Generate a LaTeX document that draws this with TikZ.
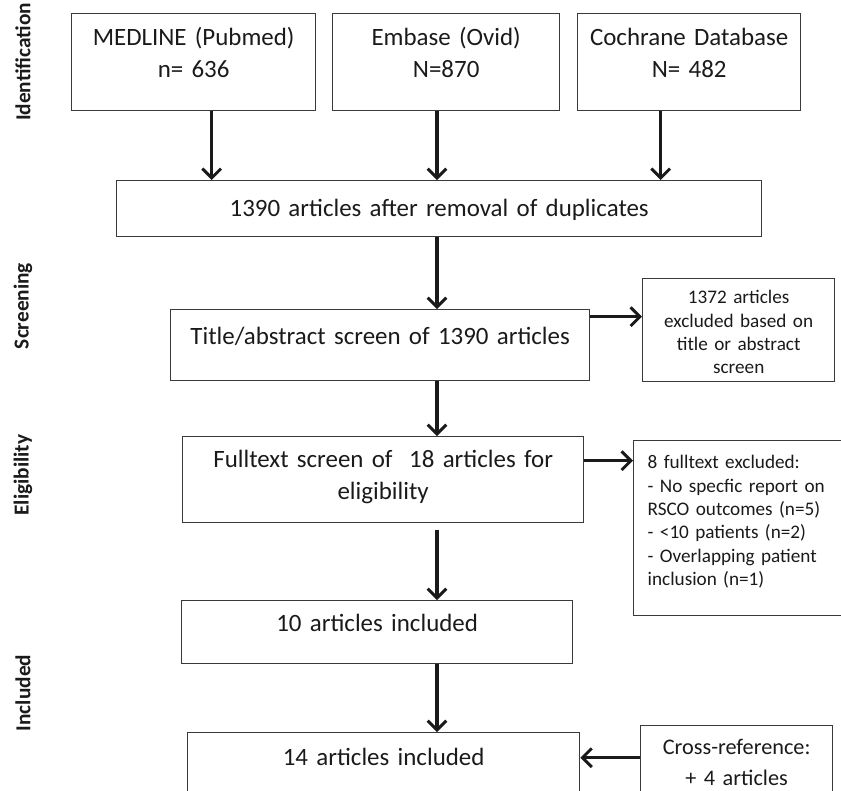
\documentclass[tikz,border=0pt]{standalone}
\usepackage{fontspec}
\setmainfont{Carlito}
\usepackage{xcolor}
\usepackage{tikz}
\usetikzlibrary{arrows.meta,calc}
\definecolor{ink}{HTML}{1A1A1A}
\definecolor{boxline}{HTML}{3A3A3A}
\newcommand{\mainsize}{\fontsize{18.7}{24}\selectfont}
\newcommand{\notesize}{\fontsize{14.4}{17.5}\selectfont}

\begin{document}
\begin{tikzpicture}[x=0.75pt,y=-0.75pt,font=\mainsize,
  box/.style={draw=boxline,line width=1pt,anchor=north west,inner sep=0pt,align=center,text=ink},
  link/.style={-{Straight Barb[length=7pt,width=14pt,line width=2.2pt]},line width=2.6pt,draw=ink},
  stage/.style={rotate=90,font=\fontsize{16}{19}\selectfont\bfseries,text=ink}]
\clip (0,0) rectangle (841,790);
\coordinate (spine) at (437,0);
% phase labels
\node[stage] (lid) at (23,62) {Identification};
\node[stage] (lscr) at (23,306) {Screening};
\node[stage] (lel) at (23,475) {Eligibility};
\node[stage] (linc) at (23,693) {Included};
% sources
\node[box,text width=183pt,text height=24pt,text depth=48.75pt] (med) at (71,13) {MEDLINE (Pubmed)\\n= 636};
\node[box,text width=170.25pt,text height=24pt,text depth=48.75pt] (emb) at (332,13) {Embase (Ovid)\\N=870};
\node[box,text width=167.25pt,text height=24pt,text depth=48.75pt] (coch) at (577,13) {Cochrane Database\\N= 482};
% main column
\node[box,text width=483.75pt,text height=26.6pt,text depth=15.4pt] (dedup) at (116,180) {1390 articles after removal of duplicates};
\node[box,text width=314.25pt,text height=26.25pt,text depth=27pt] (title) at (170,309) {Title/abstract screen of 1390 articles};
\node[box,text width=300.75pt,text height=23.25pt,text depth=41.25pt] (full) at (182,436) {Fulltext screen of~ 18 articles for\\eligibility};
\node[box,text width=293.25pt,text height=23.25pt,text depth=24pt] (ten) at (181,600) {10 articles included};
\node[box,text width=294pt,text height=24.75pt,text depth=42.75pt] (fourteen) at (187,732) {14 articles included};
% side boxes
\node[box,font=\notesize,text width=144pt,text height=18.75pt,text depth=58.5pt] (excl1) at (642,278) {1372 articles\\excluded based on\\title or abstract\\screen};
\node[box,font=\notesize,align=left,inner xsep=10.5pt,text width=156.75pt,text height=21pt,text depth=110.25pt] (excl2) at (633,440) {8 fulltext excluded:\\- No specfic report on\\RSCO outcomes (n=5)\\- {<}10 patients (n=2)\\- Overlapping patient\\inclusion (n=1)};
\node[box,font=\fontsize{16.7}{23.25}\selectfont,text width=144pt,text height=21.75pt,text depth=45.75pt] (cross) at (640,725) {Cross-reference:\\+ 4 articles};
% arrows
\draw[link] ([xshift=13.5pt]med.south) -- ([xshift=13.5pt]med.south |- dedup.north);
\draw[link] (emb.south -| spine) -- (dedup.north -| spine);
\draw[link] ([xshift=-21.4pt]coch.south) -- ([xshift=-21.4pt]coch.south |- dedup.north);
\draw[link] (dedup.south -| spine) -- (title.north -| spine);
\draw[link] ([yshift=21.4pt]title.east) -- ([yshift=21.4pt]title.east -| excl1.west);
\draw[link] (title.south -| spine) -- (full.north -| spine);
\draw[link] ([yshift=14.25pt]full.east) -- ([yshift=14.25pt]full.east -| excl2.west);
\draw[link,shorten <=5pt] (full.south -| spine) -- (ten.north -| spine);
\draw[link] (ten.south -| spine) -- (fourteen.north -| spine);
\draw[link] ([yshift=9.75pt]cross.west) -- ([yshift=9.75pt]cross.west -| fourteen.east);
\end{tikzpicture}
\end{document}
